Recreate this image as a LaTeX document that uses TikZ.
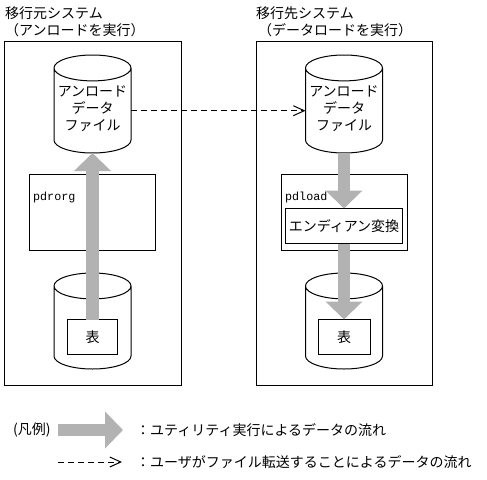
\documentclass[tikz,border=0pt]{standalone}
\usepackage{fontspec}
\setmainfont{Noto Sans CJK JP}
\newfontfamily\monofont{Liberation Mono}
\usetikzlibrary{arrows.meta, positioning, calc, shapes.geometric}
\definecolor{flowgray}{HTML}{B2B2B2}
\definecolor{inkblack}{HTML}{000000}

\tikzset{
  sysbox/.style={draw=inkblack, line width=1pt, rectangle, outer sep=0pt, inner sep=0pt},
  filecyl/.style={draw=inkblack, line width=1pt, cylinder, shape border rotate=90, aspect=0.37,
    minimum width=77pt, outer sep=0pt, inner sep=0pt, text width=70pt, text height=51pt, text depth=0pt, anchor=shape center},
  cyllabel/.style={inner sep=0pt, align=center, font=\fontsize{14}{17}\selectfont},
  jptext/.style={inner sep=0pt, font=\fontsize{14}{17}\selectfont, anchor=west},
  toollabel/.style={inner sep=0pt, font=\fontsize{11.7}{14}\monofont, anchor=west},
  bigflow/.style={draw=flowgray, line width=12.5pt, -{Triangle[length=18pt, width=36pt]}},
  userflow/.style={draw=inkblack, line width=1pt, dash pattern=on 6pt off 4pt,
    -{Straight Barb[length=11pt, width=10pt]}}
}

\begin{document}
\begin{tikzpicture}[x=1pt, y=-1pt]

% Canvas in image pixels, y runs downward
\useasboundingbox (0,0) rectangle (487,479);

% Titles
\node[jptext] (srctitle) at (5,13) {移行元システム};
\node[jptext] (srcnote) at (5,30) {（アンロードを実行）};
\node[jptext] (dsttitle) at (256,13) {移行先システム};
\node[jptext] (dstnote) at (258,30) {（データロードを実行）};

% System frames
\node[sysbox, minimum width=177pt, minimum height=343.5pt] (srcsys) at (93,213.25) {};
\node[sysbox, minimum width=176.5pt, minimum height=343.5pt] (dstsys) at (344.25,213.25) {};

% Source side
\node[filecyl, minimum height=98pt] (srcfile) at (92.5,104) {};
\node[cyllabel] (srcfiletext) at (92.5,109) {アンロード\\データ\\ファイル};
\node[sysbox, minimum width=126pt, minimum height=76pt] (pdrorgbox) at (92.5,212.5) {};
\node[toollabel] (pdrorg) at (33,197) {pdrorg};
\node[filecyl, minimum height=96pt] (srcdb) at (92.5,321) {};
\node[sysbox, minimum width=50pt, minimum height=35pt, font=\fontsize{14}{17}\selectfont] (srctable) at (92.5,337) {表};

% Destination side
\node[filecyl, minimum height=98pt] (dstfile) at (344,104) {};
\node[cyllabel] (dstfiletext) at (344,109) {アンロード\\データ\\ファイル};
\node[sysbox, minimum width=126pt, minimum height=76pt] (pdloadbox) at (344.5,212.5) {};
\node[toollabel] (pdload) at (285,197) {pdload};
\node[sysbox, minimum width=117pt, minimum height=35pt, font=\fontsize{14}{17}\selectfont] (endian) at (344,226) {エンディアン変換};
\node[filecyl, minimum height=96pt] (dstdb) at (344,321) {};
\node[sysbox, minimum width=52pt, minimum height=35pt, font=\fontsize{14}{17}\selectfont] (dsttable) at (344,337) {表};

% Data flows
\draw[bigflow] (srctable.north) -- (srcfile.south);
\draw[bigflow] (dstfile.south) -- (endian.north);
\draw[bigflow] (endian.south) -- (dsttable.north);
\draw[userflow] (srcfile.east) -- (dstfile.west);

% Legend
\node[jptext, font=\fontsize{14}{17}\selectfont] (legend) at (13,430) {(凡例)};
\coordinate (bigfrom) at (58,430);
\coordinate (bigto) at (123,430);
\coordinate (userfrom) at (58,462);
\coordinate (userto) at (122,462);
\draw[bigflow] (bigfrom) -- (bigto);
\draw[userflow] (userfrom) -- (userto);
\node[jptext] (bignote) at (136,430) {：ユティリティ実行によるデータの流れ};
\node[jptext] (usernote) at (136,462) {：ユーザがファイル転送することによるデータの流れ};

\end{tikzpicture}
\end{document}
